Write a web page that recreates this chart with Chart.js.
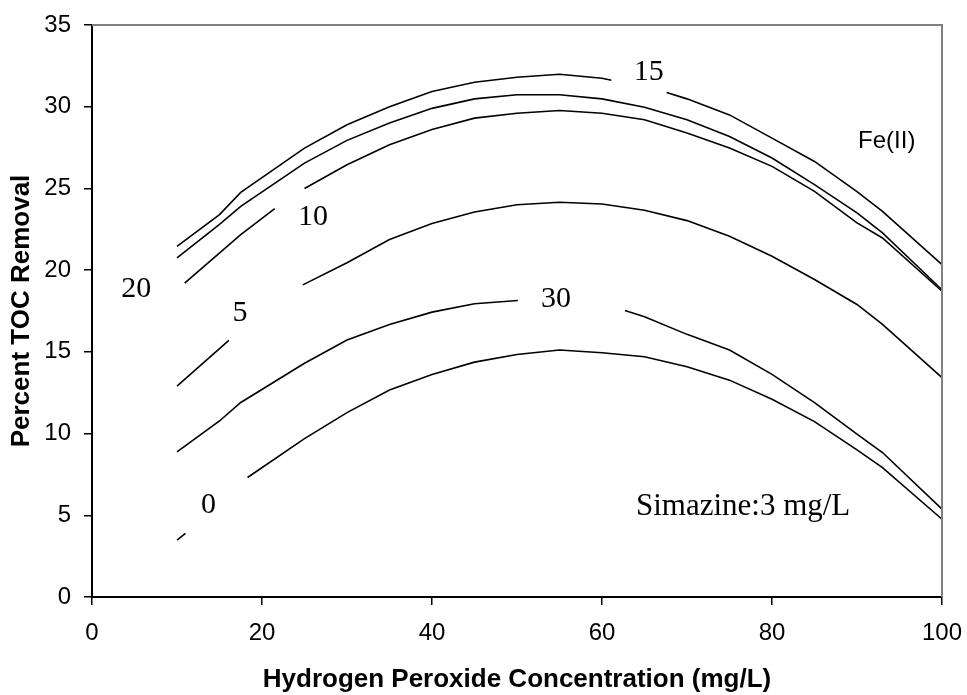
<!DOCTYPE html>
<html>
<head>
<meta charset="utf-8">
<script src="https://cdn.jsdelivr.net/npm/chart.js@4.4.1/dist/chart.umd.min.js"></script>
<style>
    html, body { margin: 0; padding: 0; background: #fff; }
</style>
</head>
<body>
<canvas id="tocChart" width="967" height="695"></canvas>
<script>
// H2O2 dose (mg/L) vs percent TOC removal, one curve per Fe(II) dose
// null = break in the line where the curve label sits
const fe15X = [10, 15, 17.5, 25, 30, 35, 40, 45, 50, 55, 60, 61.1, 64, 67.6, 70, 75, 80, 85, 90, 93, 100];
const fe15Y = [21.46, 23.4, 24.76, 27.47, 28.9, 30.0, 30.93, 31.5, 31.8, 31.99, 31.74, 31.62, null, 30.87, 30.48, 29.5, 28.08, 26.65, 24.8, 23.6, 20.34];

const fe20X = [10, 15, 17.5, 25, 30, 35, 40, 45, 50, 55, 60, 65, 70, 75, 80, 85, 90, 93, 100];
const fe20Y = [20.75, 22.8, 23.9, 26.55, 27.94, 29.0, 29.9, 30.48, 30.73, 30.73, 30.48, 29.97, 29.2, 28.18, 26.86, 25.23, 23.5, 22.28, 18.8];

const fe10X = [10.9, 17.5, 21.5, 23, 25, 30, 35, 40, 45, 50, 55, 60, 65, 70, 75, 80, 85, 90, 93, 100];
const fe10Y = [19.2, 22.17, 23.76, null, 25.0, 26.45, 27.67, 28.6, 29.3, 29.6, 29.77, 29.6, 29.2, 28.39, 27.47, 26.35, 24.82, 22.89, 21.97, 18.71];

const fe5X = [10, 16.1, 20, 24.8, 30, 35, 40, 45, 50, 55, 60, 65, 70, 75, 80, 85, 90, 93, 100];
const fe5Y = [12.9, 15.7, null, 19.1, 20.45, 21.87, 22.85, 23.56, 24.0, 24.15, 24.05, 23.66, 23.03, 22.07, 20.85, 19.43, 17.9, 16.68, 13.42];

const fe30X = [10, 15, 17.5, 25, 30, 35, 40, 45, 50.1, 56, 62.7, 65, 70, 75, 80, 85, 90, 93, 100];
const fe30Y = [8.88, 10.77, 11.9, 14.3, 15.72, 16.68, 17.43, 17.94, 18.14, null, 17.53, 17.15, 16.07, 15.11, 13.62, 11.89, 9.96, 8.84, 5.38];

const fe0X = [10, 11, 15, 18.3, 25, 30, 35, 40, 45, 50, 55, 60, 65, 70, 75, 80, 85, 90, 93, 100];
const fe0Y = [3.48, 3.89, null, 7.31, 9.69, 11.28, 12.66, 13.62, 14.37, 14.84, 15.11, 14.95, 14.7, 14.09, 13.27, 12.1, 10.73, 9.0, 7.92, 4.76];

const xTicks = [0, 20, 40, 60, 80, 100];
const yTicks = [0, 5, 10, 15, 20, 25, 30, 35];

// curve labels: text, x, y (data units)
const curveLabels = [
    ['15', 65.5, 32.1],
    ['10', 26.0, 23.25],
    ['20', 5.2, 18.85],
    ['5', 17.4, 17.4],
    ['0', 13.7, 5.6],
    ['30', 54.6, 18.25]
];

const SANS = '"Liberation Sans", Arial, sans-serif';
const SERIF = '"Liberation Serif", "Times New Roman", serif';

function toPoints(xs, ys) {
    return xs.map(function(x, i) { return { x: x, y: ys[i] }; });
}

function series(label, xs, ys) {
    return {
        label: label,
        data: toPoints(xs, ys),
        showLine: true,
        borderColor: '#000',
        borderWidth: 1.6,
        pointRadius: 0,
        tension: 0,
        spanGaps: false,
        fill: false
    };
}

// gray top/right frame, axis titles, curve labels and notes
const decorPlugin = {
    id: 'decor',
    afterDraw: function(chart) {
        const ctx = chart.ctx;
        const area = chart.chartArea;
        const xs = chart.scales.x;
        const ys = chart.scales.y;

        ctx.save();
        ctx.strokeStyle = '#808080';
        ctx.lineWidth = 2;
        ctx.beginPath();
        ctx.moveTo(area.left, area.top);
        ctx.lineTo(area.right, area.top);
        ctx.lineTo(area.right, area.bottom);
        ctx.stroke();

        ctx.fillStyle = '#000';
        ctx.textAlign = 'center';
        ctx.textBaseline = 'middle';

        ctx.font = '30px ' + SERIF;
        curveLabels.forEach(function(l) {
            ctx.fillText(l[0], xs.getPixelForValue(l[1]), ys.getPixelForValue(l[2]));
        });

        ctx.font = '31px ' + SERIF;
        ctx.fillText('Simazine:3 mg/L', xs.getPixelForValue(76.6), ys.getPixelForValue(5.5));

        ctx.font = '24px ' + SANS;
        ctx.fillText('Fe(II)', xs.getPixelForValue(93.5), ys.getPixelForValue(27.9));

        // axis titles
        ctx.font = 'bold 26px ' + SANS;
        ctx.fillText('Hydrogen Peroxide Concentration (mg/L)', (area.left + area.right) / 2, 680);

        ctx.translate(22, (area.top + area.bottom) / 2);
        ctx.rotate(-Math.PI / 2);
        ctx.fillText('Percent TOC Removal', 0, 0);
        ctx.restore();
    }
};

const ctx = document.getElementById('tocChart').getContext('2d');

const tocChart = new Chart(ctx, {
    type: 'scatter',
    data: {
        datasets: [
            series('15', fe15X, fe15Y),
            series('20', fe20X, fe20Y),
            series('10', fe10X, fe10Y),
            series('5', fe5X, fe5Y),
            series('30', fe30X, fe30Y),
            series('0', fe0X, fe0Y)
        ]
    },
    options: {
        responsive: false,
        animation: false,
        layout: {
            padding: { left: 0, right: 25, top: 25, bottom: 0 }
        },
        plugins: {
            legend: { display: false },
            tooltip: { enabled: false }
        },
        scales: {
            x: {
                type: 'linear',
                min: 0,
                max: 100,
                afterBuildTicks: function(scale) {
                    scale.ticks = xTicks.map(function(v) { return { value: v }; });
                },
                afterFit: function(scale) {
                    scale.height = 98;
                    scale.paddingLeft = 0;
                    scale.paddingRight = 0;
                },
                grid: {
                    drawOnChartArea: false,
                    drawTicks: true,
                    tickLength: 8,
                    color: '#000',
                    lineWidth: 1.5
                },
                border: { color: '#000', width: 2 },
                ticks: {
                    color: '#000',
                    padding: 14,
                    maxRotation: 0,
                    font: { family: SANS, size: 24 }
                }
            },
            y: {
                type: 'linear',
                min: 0,
                max: 35,
                afterBuildTicks: function(scale) {
                    scale.ticks = yTicks.map(function(v) { return { value: v }; });
                },
                afterFit: function(scale) {
                    scale.width = 92;
                    scale.paddingTop = 0;
                    scale.paddingBottom = 0;
                },
                grid: {
                    drawOnChartArea: false,
                    drawTicks: true,
                    tickLength: 8,
                    color: '#000',
                    lineWidth: 1.5
                },
                border: { color: '#000', width: 2 },
                ticks: {
                    color: '#000',
                    padding: 13,
                    font: { family: SANS, size: 24 }
                }
            }
        }
    },
    plugins: [decorPlugin]
});
</script>
</body>
</html>
